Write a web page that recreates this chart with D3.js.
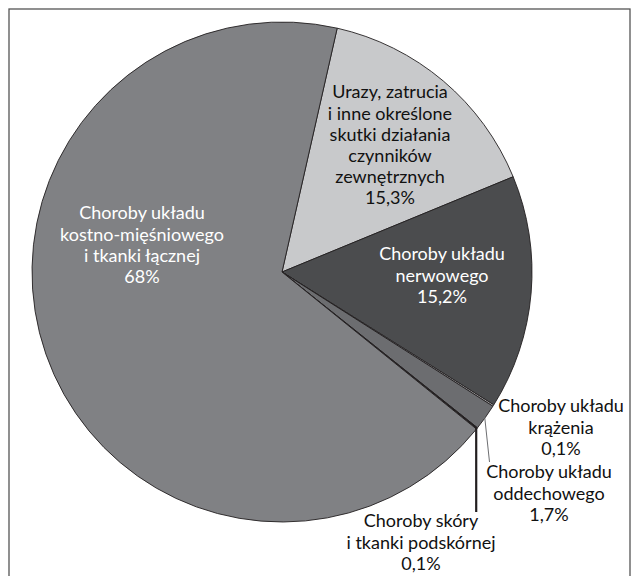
<!DOCTYPE html>
<html>
<head>
<meta charset="utf-8">
<script src="https://cdn.jsdelivr.net/npm/d3@7"></script>
<style>
  html, body { margin: 0; padding: 0; background: #fff; }
  svg { display: block; }
  text { font-family: "Lato", "Open Sans", sans-serif; }
</style>
</head>
<body>
<svg id="chart" width="637" height="576"></svg>
<script>
// Causes of sickness absence – share of cases (%)
const categories = [
  "Urazy, zatrucia i inne określone skutki działania czynników zewnętrznych",
  "Choroby układu nerwowego",
  "Choroby układu krążenia",
  "Choroby układu oddechowego",
  "Choroby skóry i tkanki podskórnej",
  "Choroby układu kostno-mięśniowego i tkanki łącznej"
];
const values = [15.3, 15.2, 0.1, 1.7, 0.1, 68];
const valueLabels = ["15,3%", "15,2%", "0,1%", "1,7%", "0,1%", "68%"];
const labelLines = [
  ["Urazy, zatrucia", "i inne określone", "skutki działania", "czynników", "zewnętrznych"],
  ["Choroby układu", "nerwowego"],
  ["Choroby układu", "krążenia"],
  ["Choroby układu", "oddechowego"],
  ["Choroby skóry", "i tkanki podskórnej"],
  ["Choroby układu", "kostno-mięśniowego", "i tkanki łącznej"]
];

const fills = ["#c8c9cb", "#4b4c4e", "#b9babc", "#6c6d70", "#231f20", "#808184"];
const textFill = ["#111", "#fff", "#111", "#111", "#111", "#fff"];

const svg = d3.select("#chart");
const cx = 282, cy = 272, R = 250;
const fontSize = 18, lineH = 21.2;

// frame
svg.append("rect")
  .attr("x", 9).attr("y", 9).attr("width", 621).attr("height", 590)
  .attr("fill", "none").attr("stroke", "#555").attr("stroke-width", 1.3);

const startA = 12.75 * Math.PI / 180;
const pie = d3.pie().sort(null).value(d => d)
  .startAngle(startA).endAngle(startA + 2 * Math.PI);
const arcs = pie(values);
const arc = d3.arc().innerRadius(0).outerRadius(R);

const g = svg.append("g").attr("transform", `translate(${cx},${cy})`);

g.selectAll("path.slice")
  .data(arcs)
  .join("path")
  .attr("class", "slice")
  .attr("d", arc)
  .attr("fill", (d, i) => fills[i])
  .attr("stroke", "#231f20")
  .attr("stroke-width", 0.9)
  .attr("stroke-linejoin", "round");

// point on the rim at a slice's middle angle
function rimPoint(d, r) {
  const a = (d.startAngle + d.endAngle) / 2;
  return [r * Math.sin(a), -r * Math.cos(a)];
}

// label anchors relative to the pie centre (middle of first text line)
const labelAnchor = [
  [108, -180],
  [160, -18],
  [279, 134],
  [267, 200],
  [139, 249],
  [-140, -59]
];

// leader lines for the two outside labels below the pie
const leaders = [
  { i: 3, end: [207.5, 190], color: "#6d6e71", width: 1 },
  { i: 4, end: null, color: "#231f20", width: 2.2 }
];
leaders.forEach(l => {
  const p = rimPoint(arcs[l.i], R - 1);
  const e = l.end ? l.end : [p[0], labelAnchor[l.i][1] - 9];
  g.append("line")
    .attr("x1", p[0]).attr("y1", p[1])
    .attr("x2", e[0]).attr("y2", e[1])
    .attr("stroke", l.color).attr("stroke-width", l.width);
});

arcs.forEach((d, i) => {
  const lines = labelLines[i].concat([valueLabels[i]]);
  const t = g.append("text")
    .attr("text-anchor", "middle")
    .attr("font-size", fontSize)
    .attr("fill", textFill[i]);
  lines.forEach((s, k) => {
    t.append("tspan")
      .attr("x", labelAnchor[i][0])
      .attr("y", labelAnchor[i][1] + k * lineH)
      .attr("dy", "0.36em")
      .text(s);
  });
});
</script>
</body>
</html>
